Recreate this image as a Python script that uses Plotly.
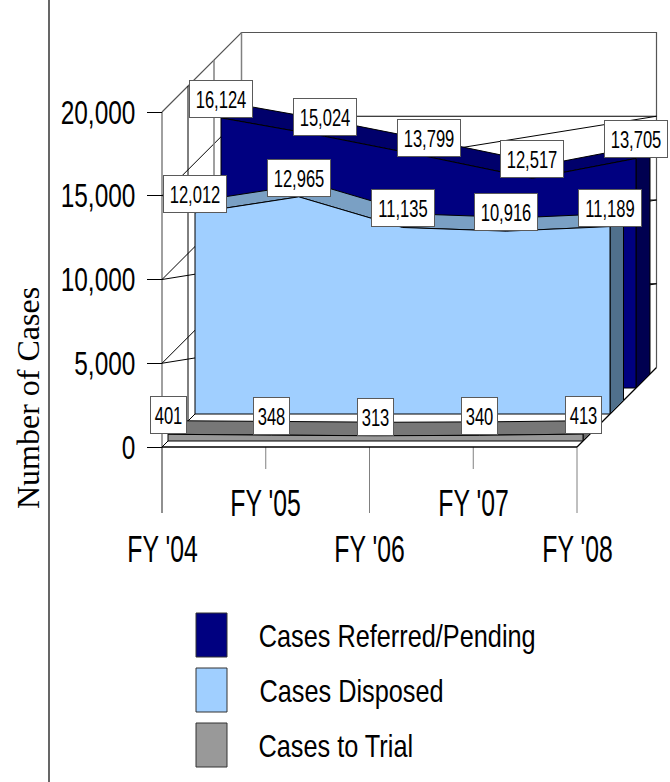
import plotly.graph_objects as go

W, H = 670, 782
categories = ["FY '04", "FY '05", "FY '06", "FY '07", "FY '08"]
referred = [16124, 15024, 13799, 12517, 13705]
disposed = [12012, 12965, 11135, 10916, 11189]
trial = [401, 348, 313, 340, 413]
y_ticks = [0, 5000, 10000, 15000, 20000]
y_tick_labels = ["0", "5,000", "10,000", "15,000", "20,000"]
series_names = ["Cases Referred/Pending", "Cases Disposed", "Cases to Trial"]

# scale of the drawing
X0, Y0 = 162.0, 447.0          # page position of FY '04 / value 0
PX_CAT = 103.75                # px per category
PX_VAL = 335.0 / 20000.0       # px per case
WALL = 79.5                    # depth of the box, px

FONT = "Liberation Sans, Arial"
SIZE_LABEL, SIZE_TICK, SIZE_CAT, SIZE_LEG = 24, 33, 37, 32
# horizontal squeeze per font size: the reference uses a condensed sans face
SQUEEZE = {SIZE_LABEL: 0.69, SIZE_TICK: 0.74, SIZE_CAT: 0.67, SIZE_LEG: 0.79}


def P(cat, val, depth=0.0):
    """Oblique projection into the axis units: depth slides right and up."""
    return cat + depth / PX_CAT, val + depth / PX_VAL


fig = go.Figure()


def line(pts, color="black", width=1.0):
    xs, ys = zip(*pts)
    fig.add_trace(go.Scatter(x=xs, y=ys, mode="lines", hoverinfo="skip",
                             line=dict(color=color, width=width), showlegend=False))


def poly(pts, fill, color="black", width=1.0):
    xs, ys = zip(*(list(pts) + [pts[0]]))
    fig.add_trace(go.Scatter(x=xs, y=ys, mode="lines", fill="toself", fillcolor=fill,
                             hoverinfo="skip", line=dict(color=color, width=width),
                             showlegend=False))


def area(values, d0, d1, front, top, side):
    n = len(values)
    fe = [P(i, values[i], d0) for i in range(n)]
    be = [P(i, values[i], d1) for i in range(n)]
    poly(fe + be[::-1], top)
    poly([P(n - 1, 0, d0), P(n - 1, values[-1], d0), P(n - 1, values[-1], d1), P(n - 1, 0, d1)], side)
    poly([P(0, 0, d0)] + fe + [P(n - 1, 0, d0)], front)


GRAY = "#808080"
top_v = y_ticks[-1]
last = len(categories) - 1

# long and short category ticks below the floor
DROP_L, DROP_S = -66 / PX_VAL, -22 / PX_VAL
for i in range(len(categories)):
    line([P(i, 0), P(i, DROP_L if i % 2 == 0 else DROP_S)], GRAY)

# box walls
line([P(0, DROP_L), P(0, top_v)], GRAY, 1.5)
line([P(0, top_v), P(0, top_v, WALL), P(last, top_v, WALL), P(last, 0, WALL)], "#555555", 1.2)
for v in y_ticks[1:-1]:
    line([P(0, v, WALL), P(last, v, WALL)])
    line([P(0, v), P(0, v, WALL)])
    line([P(0, v), P(last, v, WALL)])
line([P(0, top_v, 26), P(0, 0, 26)])
line([P(0, top_v, 52), P(0, 13134, 52)], GRAY, 1.5)
line([P(0, top_v, WALL), P(0, 15000, WALL)], GRAY, 1.5)
line([P(0, 0), P(0, 0, WALL)])
line([P(last, 0), P(last, 0, WALL)], "black", 1.3)

# the three series, back to front
area(referred, 59, 73, "#000080", "#00006B", "#000050")
area(disposed, 33, 46.5, "#A0CFFF", "#7AA0C4", "#50708C")
area(trial, 6, 19.5, "#999999", "#777777", "#6A6A6A")
line([P(0, 0), P(last, 0)], "black", 1.4)

annotations = []


def label(cat, val, depth):
    x, y = P(cat, val, depth)
    wide = val >= 1000
    annotations.append(dict(
        x=x, y=y, xref="x", yref="y", xanchor="center", yanchor="bottom",
        text=f"{val:,}", showarrow=False, width=62 if wide else 35, height=36,
        bgcolor="white", bordercolor="#5A5A5A", borderwidth=1, borderpad=0,
        align="center", valign="middle", font=dict(family=FONT, size=SIZE_LABEL, color="black")))


for i in range(len(categories)):
    label(i, referred[i], 59)
    label(i, disposed[i], 33)
    label(i, trial[i], 6)

for i, c in enumerate(categories):
    annotations.append(dict(x=i, y=0, xref="x", yref="y", text=c, showarrow=False,
                            xanchor="center", yanchor="middle",
                            yshift=-102 if i % 2 == 0 else -56,
                            font=dict(family=FONT, size=SIZE_CAT, color="black")))

annotations.append(dict(x=28 / W, y=1 - 398 / H, xref="paper", yref="paper", text="Number of Cases",
                        textangle=-90, showarrow=False, xanchor="center", yanchor="middle",
                        font=dict(family="Liberation Serif, Times New Roman", size=32, color="black")))

# legend
shapes = [dict(type="line", xref="paper", yref="paper", x0=49 / W, x1=49 / W, y0=0, y1=1,
               line=dict(color="black", width=1.2))]
legend_colors = ["#000080", "#A0CFFF", "#999999"]
legend_top = [613, 668, 723]
legend_text_center = [396.5, 351, 335.5]
for name, col, t, cx in zip(series_names, legend_colors, legend_top, legend_text_center):
    shapes.append(dict(type="rect", xref="paper", yref="paper", x0=196 / W, x1=227 / W,
                       y0=1 - t / H, y1=1 - (t + 44) / H, fillcolor=col,
                       line=dict(color="#333333", width=1)))
    annotations.append(dict(x=cx / W, y=1 - (t + 23) / H, xref="paper", yref="paper", text=name,
                            showarrow=False, xanchor="center", yanchor="middle",
                            font=dict(family=FONT, size=SIZE_LEG, color="black")))

fig.update_layout(
    width=W, height=H, autosize=False, margin=dict(l=0, r=0, t=0, b=0),
    paper_bgcolor="white", plot_bgcolor="white", showlegend=False,
    shapes=shapes, annotations=annotations,
    xaxis=dict(range=[-X0 / PX_CAT, (W - X0) / PX_CAT], visible=False, fixedrange=True),
    yaxis=dict(range=[-(H - Y0) / PX_VAL, Y0 / PX_VAL], anchor="free", position=X0 / W,
               tickmode="array", tickvals=y_ticks, ticktext=y_tick_labels, ticks="outside",
               ticklen=15, tickwidth=1, tickcolor="black", showline=False, showgrid=False,
               zeroline=False, ticklabelstandoff=5, fixedrange=True,
               tickfont=dict(family=FONT, size=SIZE_TICK, color="black")),
)

squeeze_js = "{" + ",".join(f'"{k}":{v}' for k, v in SQUEEZE.items()) + "}"
post = """
document.body.style.margin = '0';
var sq = %s;
document.querySelectorAll('svg text').forEach(function (t) {
  if ((t.style.fontFamily || '').indexOf('Serif') >= 0) return;
  var f = sq[String(parseFloat(t.style.fontSize))];
  if (!f) return;
  t.setAttribute('textLength', t.getComputedTextLength() * f);
  t.setAttribute('lengthAdjust', 'spacingAndGlyphs');
});
""" % squeeze_js
fig.write_html("out.html", config=dict(displayModeBar=False), default_width=W, default_height=H,
               post_script=post)
